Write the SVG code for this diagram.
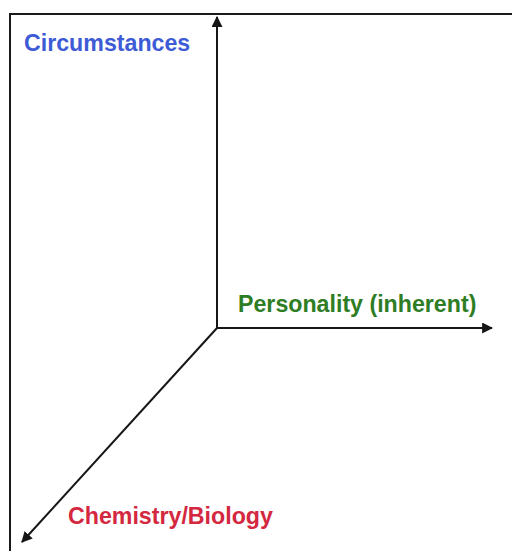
<svg xmlns="http://www.w3.org/2000/svg" width="512" height="551" viewBox="0 0 512 551">
  <style>
    .label { font-family: "Liberation Sans", Arial, sans-serif; font-weight: bold; font-size: 23.2px; }
    .axis { stroke: #161616; stroke-width: 2; fill: none; }
    .frame { stroke: #1a1a1a; stroke-width: 2; fill: none; }
  </style>
  <defs>
    <marker id="arrow" viewBox="0 0 10 10" refX="9" refY="5" markerWidth="5.5" markerHeight="5.5" orient="auto" markerUnits="strokeWidth">
      <path d="M0,0 L10,5 L0,10 z" fill="#161616"/>
    </marker>
  </defs>
  <rect width="512" height="551" fill="#ffffff"/>
  <g id="frame">
    <path class="frame" d="M10,551 L10,14 L512,14"/>
  </g>
  <g id="connectors">
    <line class="axis" x1="217" y1="328" x2="217" y2="17" marker-end="url(#arrow)"/>
    <line class="axis" x1="217" y1="328" x2="492" y2="328" marker-end="url(#arrow)"/>
    <line class="axis" x1="217" y1="328" x2="22" y2="542" marker-end="url(#arrow)"/>
  </g>
  <g id="circumstances">
    <text class="label" x="24" y="51" fill="#3d5bd6">Circumstances</text>
  </g>
  <g id="personality">
    <text class="label" x="238" y="312" fill="#2e7d24">Personality (inherent)</text>
  </g>
  <g id="chemistry">
    <text class="label" x="68" y="524" fill="#d3283f">Chemistry/Biology</text>
  </g>
</svg>
